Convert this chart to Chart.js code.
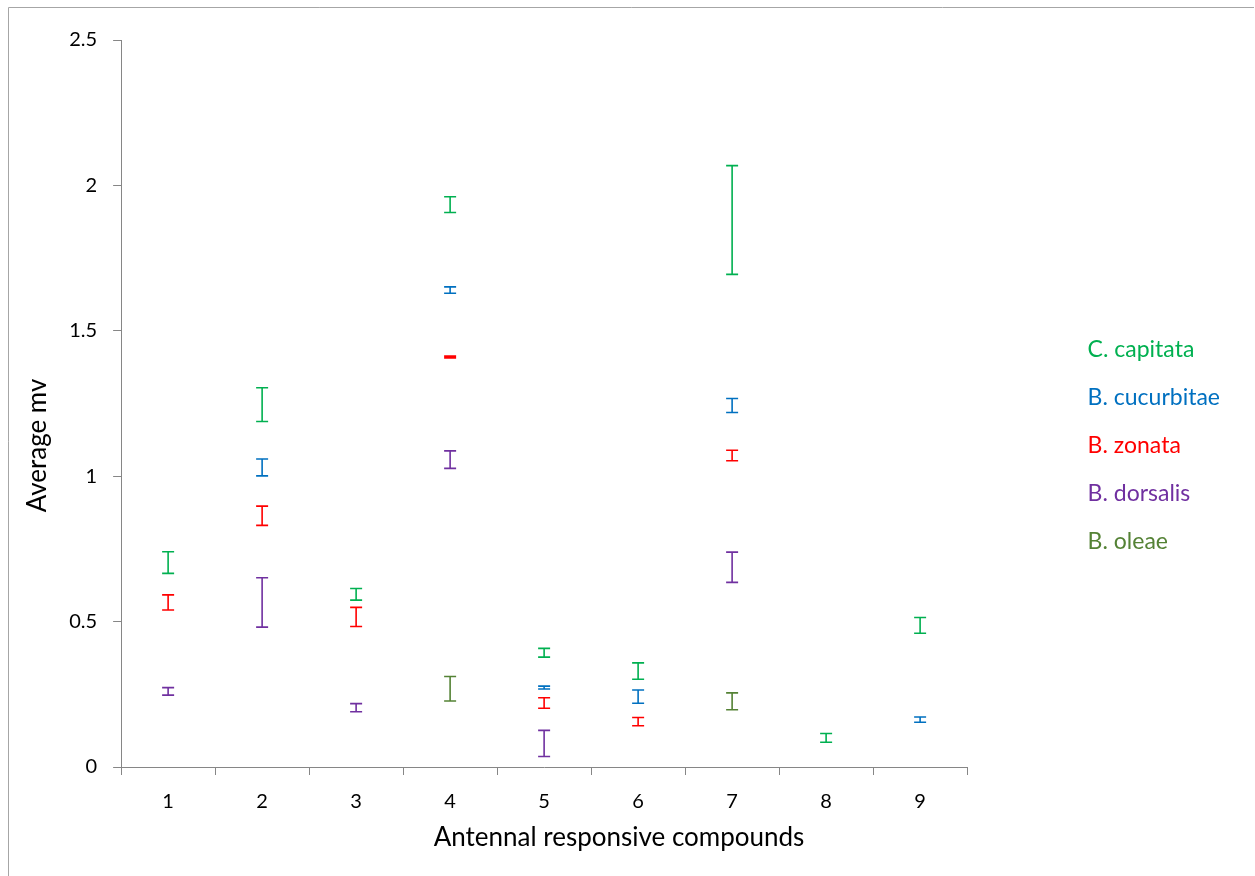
<!DOCTYPE html>
<html>
<head>
<meta charset="utf-8">
<script src="https://cdn.jsdelivr.net/npm/chart.js@4/dist/chart.umd.min.js"></script>
<style>
  html, body { margin: 0; padding: 0; background: #fff; }
  #wrap { width: 1255px; height: 876px; }
</style>
</head>
<body>
<div id="wrap"><canvas id="chart" width="1255" height="876"></canvas></div>
<script>
const compounds = ['1', '2', '3', '4', '5', '6', '7', '8', '9'];

const capitata = [0.703, 1.246, 0.594, 1.934, 0.393, 0.330, 1.881, 0.100, 0.487];
const capitataErr = [0.037, 0.058, 0.020, 0.027, 0.015, 0.028, 0.187, 0.015, 0.027];

const cucurbitae = [null, 1.030, null, 1.640, 0.273, 0.242, 1.243, null, 0.163];
const cucurbitaeErr = [null, 0.029, null, 0.011, 0.005, 0.023, 0.024, null, 0.009];

const zonata = [0.566, 0.864, 0.516, 1.410, 0.220, 0.156, 1.071, null, null];
const zonataErr = [0.026, 0.033, 0.033, 0.003, 0.018, 0.014, 0.018, null, null];

const dorsalis = [0.260, 0.566, 0.204, 1.057, 0.081, null, 0.687, null, null];
const dorsalisErr = [0.013, 0.085, 0.014, 0.030, 0.045, null, 0.052, null, null];

const oleae = [null, null, null, 0.269, null, null, 0.226, null, null];
const oleaeErr = [null, null, null, 0.042, null, null, 0.029, null, null];

const yTicks = [0, 0.5, 1, 1.5, 2, 2.5];

const FONT = 'Lato, "Open Sans", sans-serif';
const AXIS_GREY = '#868686';

const series = (label, data, err, color) => ({
  label,
  data,
  err,
  borderColor: color,
  backgroundColor: color,
  showLine: false,
  pointRadius: 0,
  pointHoverRadius: 0,
});

// error bars: vertical line with caps, placed by the chart's scales
const errorBars = {
  id: 'errorBars',
  afterDatasetsDraw(chart) {
    const {ctx, scales: {y}} = chart;
    chart.data.datasets.forEach((ds, i) => {
      const meta = chart.getDatasetMeta(i);
      ds.data.forEach((v, j) => {
        if (v === null) return;
        const x = meta.data[j].x;
        const top = y.getPixelForValue(v + ds.err[j]);
        const bottom = y.getPixelForValue(v - ds.err[j]);
        ctx.save();
        ctx.strokeStyle = ds.borderColor;
        ctx.lineWidth = 1.6;
        ctx.beginPath();
        ctx.moveTo(x, top);
        ctx.lineTo(x, bottom);
        ctx.moveTo(x - 6, top);
        ctx.lineTo(x + 6, top);
        ctx.moveTo(x - 6, bottom);
        ctx.lineTo(x + 6, bottom);
        ctx.stroke();
        ctx.restore();
      });
    });
  },
};

// thin outer frame of the chart object
const frame = {
  id: 'frame',
  beforeDraw(chart) {
    const {ctx, width, height} = chart;
    ctx.save();
    ctx.strokeStyle = '#a6a6a6';
    ctx.lineWidth = 1;
    ctx.beginPath();
    ctx.moveTo(8.5, height);
    ctx.lineTo(8.5, 7.5);
    ctx.lineTo(width - 1, 7.5);
    ctx.stroke();
    ctx.restore();
  },
};

new Chart(document.getElementById('chart'), {
  type: 'line',
  data: {
    labels: compounds,
    datasets: [
      series('C. capitata', capitata, capitataErr, '#00B050'),
      series('B. cucurbitae', cucurbitae, cucurbitaeErr, '#0070C0'),
      series('B. zonata', zonata, zonataErr, '#FF0000'),
      series('B. dorsalis', dorsalis, dorsalisErr, '#7030A0'),
      series('B. oleae', oleae, oleaeErr, '#548235'),
    ],
  },
  options: {
    responsive: false,
    animation: false,
    events: [],
    layout: {
      padding: {left: 8, right: 25, top: 40, bottom: 25},
    },
    scales: {
      x: {
        type: 'category',
        offset: true,
        grid: {
          offset: true,
          drawOnChartArea: false,
          drawTicks: true,
          tickLength: 8,
          color: AXIS_GREY,
        },
        border: {color: AXIS_GREY, width: 1},
        ticks: {
          color: '#000',
          padding: 15,
          maxRotation: 0,
          font: {family: FONT, size: 20},
        },
      },
      y: {
        min: 0,
        max: 2.5,
        afterBuildTicks: (axis) => {
          axis.ticks = yTicks.map((value) => ({value}));
        },
        grid: {
          drawOnChartArea: false,
          drawTicks: true,
          tickLength: 8,
          color: AXIS_GREY,
        },
        border: {color: AXIS_GREY, width: 1},
        ticks: {
          color: '#000',
          padding: 16,
          font: {family: FONT, size: 20},
          callback: (value) => String(value),
        },
      },
    },
    plugins: {
      tooltip: {enabled: false},
      legend: {
        position: 'right',
        align: 'center',
        maxWidth: 320,
        labels: {
          boxWidth: 84,
          padding: 25,
          font: {family: FONT, size: 23},
          generateLabels: (chart) => chart.data.datasets.map((ds, i) => ({
            text: ds.label,
            fontColor: ds.borderColor,
            fillStyle: 'rgba(0,0,0,0)',
            strokeStyle: 'rgba(0,0,0,0)',
            lineWidth: 0,
            hidden: false,
            datasetIndex: i,
          })),
        },
      },
      title: {
        display: true,
        position: 'bottom',
        text: 'Antennal responsive compounds',
        color: '#000',
        font: {family: FONT, size: 26, weight: 'normal', lineHeight: 1},
        padding: {top: -4, bottom: 0},
      },
      subtitle: {
        display: true,
        position: 'left',
        text: 'Average mv',
        color: '#000',
        font: {family: FONT, size: 26, weight: 'normal'},
        padding: {top: 14, bottom: 0},
      },
    },
  },
  plugins: [frame, errorBars],
});
</script>
</body>
</html>
